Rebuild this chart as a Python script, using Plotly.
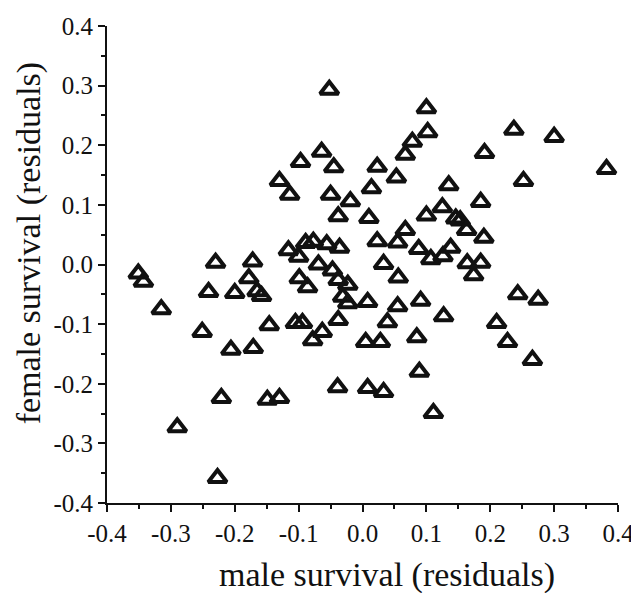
import plotly.graph_objects as go

male = [-0.351, -0.343, -0.315, -0.290, -0.227, -0.251, -0.241, -0.230, -0.221, -0.206,
        -0.200, -0.178, -0.172, -0.171, -0.165, -0.158, -0.149, -0.146, -0.130, -0.130,
        -0.114, -0.116, -0.100, -0.097, -0.105, -0.094, -0.089, -0.099, -0.086, -0.078,
        -0.077, -0.069, -0.064, -0.063, -0.056, -0.052, -0.050, -0.047, -0.045, -0.038,
        -0.038, -0.038, -0.039, -0.036, -0.031, -0.023, -0.023, -0.019,
        0.005, 0.008, 0.008, 0.010, 0.014, 0.023, 0.023, 0.028, 0.033, 0.033,
        0.039, 0.053, 0.055, 0.055, 0.056, 0.067, 0.067, 0.078, 0.085, 0.088,
        0.089, 0.091, 0.100, 0.102, 0.100, 0.107, 0.111, 0.125, 0.126, 0.127,
        0.135, 0.138, 0.146, 0.153, 0.163, 0.164, 0.174, 0.185, 0.185, 0.190,
        0.191, 0.210, 0.227, 0.237, 0.243, 0.252, 0.266, 0.275, 0.300, 0.382]
female = [-0.015, -0.029, -0.075, -0.273, -0.358, -0.113, -0.046, 0.003, -0.224, -0.143,
          -0.048, -0.023, 0.005, -0.140, -0.045, -0.053, -0.227, -0.102, -0.224, 0.140,
          0.117, 0.024, 0.013, 0.172, -0.098, -0.098, 0.036, -0.023, -0.038, -0.127,
          0.038, 0.000, 0.189, -0.113, 0.034, 0.293, 0.117, -0.010, 0.163, 0.081,
          -0.026, -0.093, -0.206, 0.028, -0.054, -0.034, -0.065, 0.106,
          -0.130, -0.063, -0.207, 0.078, 0.128, 0.164, 0.039, -0.130, 0.001, -0.214,
          -0.097, 0.146, 0.037, -0.070, -0.022, 0.058, 0.184, 0.206, -0.122, 0.026,
          -0.180, -0.061, 0.262, 0.222, 0.082, 0.009, -0.249, 0.096, 0.014, -0.087,
          0.133, 0.028, 0.077, 0.074, 0.058, 0.002, -0.018, 0.003, 0.105, 0.045,
          0.187, -0.098, -0.130, 0.226, -0.050, 0.140, -0.160, -0.059, 0.214, 0.160]

tick_vals = [-0.4, -0.3, -0.2, -0.1, 0.0, 0.1, 0.2, 0.3, 0.4]
tick_text = ["-0.4", "-0.3", "-0.2", "-0.1", "0.0", "0.1", "0.2", "0.3", "0.4"]

x_title = "male survival (residuals)"
y_title = "female survival (residuals)"

font = "Liberation Serif"
ink = "#111111"

fig = go.Figure(go.Scatter(
    x=male, y=female, mode="markers",
    marker=dict(symbol="triangle-up-open", size=16, color=ink,
                line=dict(width=4, color=ink)),
    cliponaxis=False,
))

axis_common = dict(
    range=[-0.4, 0.4], tickvals=tick_vals, ticktext=tick_text,
    showline=True, linecolor=ink, linewidth=2, mirror=False,
    ticks="outside", ticklen=7, tickwidth=2, tickcolor=ink,
    minor=dict(dtick=0.05, tick0=0, ticks="outside", ticklen=4, tickwidth=1.5, tickcolor=ink),
    showgrid=False, zeroline=False, automargin=False,
    tickfont=dict(family=font, size=25, color=ink),
)

fig.update_xaxes(**axis_common)
fig.update_yaxes(**axis_common)

fig.add_annotation(text=x_title, xref="paper", yref="paper", x=0.547, y=-0.151,
                   xanchor="center", yanchor="middle", showarrow=False,
                   font=dict(family=font, size=34, color=ink))
fig.add_annotation(text=y_title, xref="paper", yref="paper", x=-0.152, y=0.545,
                   xanchor="center", yanchor="middle", showarrow=False, textangle=-90,
                   font=dict(family=font, size=34, color=ink))

# page body has an 8px default margin, so the figure is sized to fit the window
fig.update_layout(
    width=631, height=585,
    margin=dict(l=99, r=21, t=18, b=90),
    plot_bgcolor="white", paper_bgcolor="white",
    showlegend=False,
)

fig.write_html("out.html")
